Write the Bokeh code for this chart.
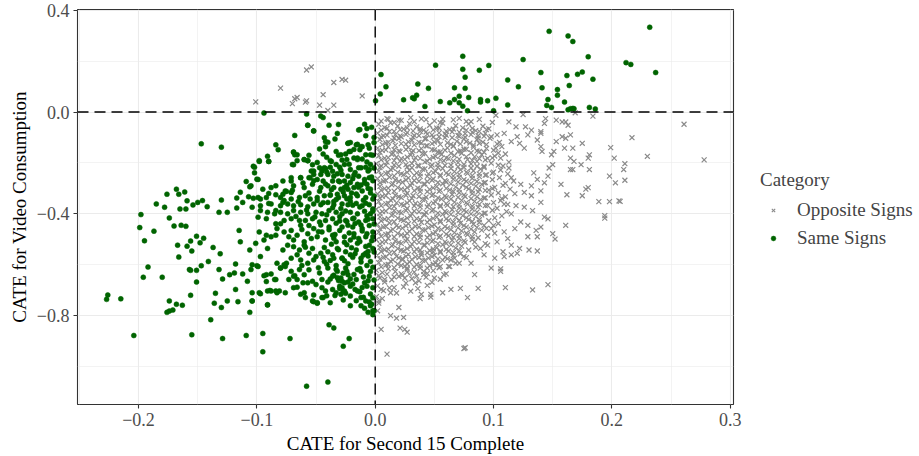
from bokeh.plotting import figure
from bokeh.layouts import row
from bokeh.models import (Range1d, FixedTicker, CustomJSTickFormatter, Span,
                          Legend, LegendItem, ColumnDataSource)
from bokeh.embed import file_html
from bokeh.resources import INLINE

FONT = "Liberation Serif"

# ---------------- data (x = CATE Second 15 Complete, y = CATE Video Consumption) -------------
# Same Signs, upper-right quadrant
green_top = [(.0049,.147),(.0091,.099),(.0043,.071),(.0003,.044),(.024,.048),(.0316,.056),(.033,.052),
 (.035,.066),(.036,.110),(.042,.022),(.045,.093),(.051,.184),(.055,.041),(.063,.036),(.067,.049),(.067,.095),
 (.071,.062),(.071,.036),(.074,.023),(.074,.168),(.074,.219),(.076,.137),(.076,.093),(.078,.005),(.079,.057),
 (.088,.164),(.089,.049),(.089,.039),(.095,.044),(.096,.183),(.100,.005),(.102,.054),(.112,.126),(.112,.028),
 (.121,.099),(.125,.206),(.140,.155),(.141,.095),(.145,.026),(.146,.049),(.147,.317),(.149,.018),(.154,.088),
 (.154,.066),(.160,.039),(.162,.143),(.163,.299),(.164,.104),(.163,.009),(.165,.013),(.167,.014),(.168,.013),
 (.167,.277),(.171,.148),(.175,.157),(.180,.217),(.181,.018),(.184,.129),(.186,.012),(.212,.194),(.216,.187),
 (.232,.333),(.237,.155)]

# Same Signs, lower-left: upper part / far left
green_left = [(-.147,-.125),(-.130,-.138),(-.094,-.004),(-.068,-.092),(-.058,-.008),(-.057,-.052),(-.052,-.074),
 (-.046,-.016),(-.044,-.022),(-.039,-.052),(-.009,-.048),(-.013,-.069),(-.008,-.093),(-.032,-.084),(-.042,-.116),
 (-.084,-.129),(-.082,-.148),(-.069,-.157),(-.068,-.168),(-.060,-.187),(-.057,-.191),(-.056,-.170),(-.069,-.207),
 (-.090,-.194),(-.098,-.194),(-.103,-.213),(-.102,-.239),(-.100,-.264),(-.109,-.273),(-.106,-.294),(-.114,-.315),
 (-.117,-.338),(-.112,-.355),(-.107,-.333),(-.103,-.339),(-.117,-.377),(-.125,-.394),(-.130,-.346),(-.132,-.394),
 (-.142,-.372),(-.146,-.348),(-.150,-.355),(-.159,-.349),(-.154,-.365),(-.160,-.381),(-.168,-.303),(-.166,-.323),
 (-.161,-.314),(-.176,-.323),(-.185,-.361),(-.178,-.374),(-.165,-.381),(-.174,-.416),(-.198,-.403),(-.097,-.368),
 (-.090,-.359),(-.084,-.387),(-.078,-.355),(-.078,-.323),(-.075,-.312),(-.070,-.307),(-.071,-.271),(-.063,-.258),
 (-.055,-.258),(-.052,-.232),(-.046,-.245),(-.043,-.219),(-.053,-.207),(-.037,-.194),(-.033,-.155),(-.029,-.168),
 (-.023,-.123),(-.016,-.129),(-.011,-.136),(-.006,-.129),(-.013,-.148),(-.022,-.155),(-.015,-.181)]

# Same Signs, lower-left: lower part / far left
green_bottom = [(-.227,-.736),(-.226,-.719),(-.215,-.734),(-.204,-.878),(-.196,-.649),(-.192,-.609),(-.180,-.649),
 (-.199,-.454),(-.187,-.468),(-.195,-.506),(-.176,-.787),(-.174,-.782),(-.171,-.778),(-.168,-.755),(-.174,-.742),
 (-.163,-.759),(-.170,-.448),(-.164,-.445),(-.160,-.449),(-.167,-.523),(-.166,-.570),(-.159,-.527),(-.155,-.546),
 (-.156,-.507),(-.151,-.488),(-.148,-.514),(-.145,-.496),(-.157,-.619),(-.156,-.622),(-.151,-.622),(-.151,-.668),
 (-.156,-.720),(-.155,-.875),(-.147,-.604),(-.141,-.587),(-.137,-.532),(-.139,-.816),(-.136,-.751),(-.135,-.712),
 (-.131,-.557),(-.132,-.619),(-.130,-.768),(-.129,-.656),(-.129,-.890),(-.125,-.742),(-.123,-.639),(-.119,-.632),
 (-.118,-.697),(-.116,-.745),(-.118,-.597),(-.115,-.465),(-.114,-.510),(-.112,-.636),(-.109,-.878),(-.108,-.665),
 (-.106,-.787),(-.106,-.542),(-.105,-.619),(-.104,-.742),(-.100,-.604),(-.097,-.714),(-.095,-.942),(-.095,-.870),
 (-.094,-.643),(-.092,-.666),(-.091,-.757),(-.089,-.701),(-.085,-.658),(-.084,-.703),(-.081,-.703),(-.080,-.613),
 (-.075,-.594),(-.073,-.658),(-.072,-.890),(-.068,-.643),(-.064,-.619),(-.061,-.671),(-.060,-.710),(-.058,-1.077),
 (-.052,-.745),(-.049,-.751),(-.044,-.729),(-.040,-1.061),(-.039,-.836),(-.035,-.848),(-.027,-.920),(-.022,-.890),
 (-.012,-.761),(-.006,-.787),(-.005,-.746),(-.002,-.796)]

# Same Signs, lower-left: main cloud
green_core = [(-.057,-.052),(-.031,-.049),(-.052,-.075),(-.014,-.071),(-.007,-.065),(-.043,-.101),(-.040,-.119),
 (-.034,-.106),(-.023,-.123),(-.021,-.120),(-.015,-.127),(-.012,-.136),(-.005,-.142),(-.047,-.145),(-.042,-.136),
 (-.069,-.158),(-.066,-.168),(-.044,-.165),(-.041,-.178),(-.038,-.191),(-.031,-.170),(-.025,-.165),(-.021,-.155),
 (-.024,-.187),(-.018,-.181),(-.015,-.187),(-.008,-.168),(-.007,-.196),(-.004,-.206),(-.098,-.191),(-.091,-.174),
 (-.090,-.194),(-.070,-.206),(-.066,-.191),(-.060,-.187),(-.057,-.191),(-.047,-.219),(-.045,-.232),(-.042,-.222),
 (-.038,-.217),(-.033,-.206),(-.030,-.217),(-.026,-.206),(-.021,-.226),(-.012,-.219),(-.008,-.217),(-.005,-.226),
 (-.102,-.217),(-.099,-.265),(-.054,-.232),(-.052,-.245),(-.040,-.245),(-.035,-.252),(-.032,-.243),(-.028,-.245),
 (-.023,-.252),(-.018,-.248),(-.014,-.252),(-.009,-.265),(-.005,-.258),(-.071,-.258),(-.063,-.258),(-.056,-.258),
 (-.049,-.265),(-.044,-.271),(-.036,-.271),(-.030,-.274),(-.026,-.271),(-.021,-.277),(-.015,-.284),(-.007,-.284),
 (-.078,-.271),(-.084,-.290),(-.088,-.297),(-.095,-.303),(-.105,-.290),(-.069,-.290),(-.060,-.297),(-.053,-.284),
 (-.046,-.297),(-.040,-.290),(-.035,-.297),(-.029,-.303),(-.023,-.303),(-.018,-.297),(-.011,-.310),(-.004,-.303),
 (-.076,-.310),(-.071,-.316),(-.090,-.320),(-.084,-.325),(-.099,-.336),(-.097,-.342),(-.092,-.336),(-.080,-.336),
 (-.077,-.348),(-.071,-.342),(-.064,-.336),(-.059,-.329),(-.055,-.342),(-.049,-.336),(-.043,-.329),(-.038,-.325),
 (-.031,-.336),(-.026,-.329),(-.021,-.336),(-.015,-.329),(-.008,-.336),(-.002,-.342),(-.088,-.361),(-.080,-.368),
 (-.074,-.361),(-.069,-.368),(-.063,-.364),(-.057,-.372),(-.052,-.361),(-.046,-.364),(-.040,-.355),(-.035,-.364),
 (-.028,-.361),(-.023,-.364),(-.016,-.359),(-.011,-.368),(-.005,-.364),(-.104,-.374),(-.097,-.387),(-.091,-.394),
 (-.085,-.400),(-.080,-.394),(-.074,-.400),(-.069,-.387),(-.063,-.394),(-.057,-.400),(-.050,-.394),(-.045,-.400),
 (-.039,-.387),(-.033,-.394),(-.028,-.400),(-.021,-.394),(-.015,-.400),(-.009,-.390),(-.004,-.400),(-.099,-.413),
 (-.092,-.419),(-.084,-.439),(-.077,-.426),(-.071,-.419),(-.064,-.426),(-.059,-.426),(-.053,-.419),(-.047,-.432),
 (-.042,-.426),(-.036,-.419),(-.030,-.428),(-.025,-.426),(-.019,-.419),(-.014,-.432),(-.008,-.426),(-.002,-.419),
 (-.101,-.516),(-.098,-.471),(-.092,-.484),(-.094,-.503),(-.088,-.490),(-.084,-.484),(-.083,-.458),(-.080,-.439),
 (-.077,-.471),(-.073,-.490),(-.071,-.465),(-.069,-.503),(-.066,-.484),(-.063,-.445),(-.060,-.510),(-.057,-.478),
 (-.054,-.497),(-.052,-.458),(-.049,-.490),(-.045,-.471),(-.042,-.503),(-.039,-.452),(-.036,-.484),(-.033,-.510),
 (-.030,-.465),(-.026,-.490),(-.023,-.445),(-.021,-.503),(-.018,-.478),(-.015,-.516),(-.011,-.458),(-.008,-.490),
 (-.005,-.523),(-.002,-.471),(-.097,-.568),(-.091,-.536),(-.078,-.542),(-.074,-.523),(-.069,-.529),(-.064,-.542),
 (-.060,-.523),(-.056,-.555),(-.053,-.536),(-.050,-.568),(-.046,-.555),(-.043,-.587),(-.040,-.549),(-.036,-.561),
 (-.032,-.536),(-.028,-.574),(-.025,-.549),(-.021,-.561),(-.016,-.542),(-.012,-.574),(-.008,-.555),(-.004,-.587),
 (-.002,-.536),(-.071,-.574),(-.063,-.581),(-.057,-.594),(-.077,-.600),(-.083,-.594),(-.104,-.600),(-.099,-.607),
 (-.092,-.639),(-.088,-.636),(-.084,-.658),(-.080,-.613),(-.076,-.607),(-.071,-.626),(-.069,-.645),(-.066,-.658),
 (-.060,-.639),(-.056,-.620),(-.053,-.665),(-.050,-.678),(-.047,-.632),(-.045,-.658),(-.040,-.613),(-.036,-.645),
 (-.032,-.626),(-.029,-.652),(-.026,-.671),(-.023,-.639),(-.021,-.684),(-.016,-.658),(-.012,-.626),(-.009,-.671),
 (-.005,-.645),(-.002,-.690),(-.030,-.684),(-.028,-.690),(-.025,-.613),(-.104,-.710),(-.098,-.710),(-.091,-.703),
 (-.088,-.703),(-.083,-.710),(-.076,-.710),(-.069,-.690),(-.063,-.716),(-.059,-.729),(-.053,-.742),(-.049,-.749),
 (-.045,-.729),(-.042,-.703),(-.038,-.749),(-.033,-.710),(-.029,-.716),(-.026,-.703),(-.021,-.723),(-.015,-.703),
 (-.012,-.729),(-.008,-.742),(-.004,-.761),(-.002,-.781),(-.091,-.758),(-.021,-.761),(-.009,-.771),(-.104,-.742)]

# Same Signs, densest part of the cloud and the column along x = 0
green_dense = [(-.003,-.255),(-.009,-.278),(-.014,-.296),(-.019,-.262),(-.024,-.288),(-.031,-.271),(-.037,-.305),
 (-.042,-.283),(-.004,-.318),(-.010,-.347),(-.016,-.322),(-.021,-.351),(-.027,-.314),(-.033,-.344),(-.038,-.327),
 (-.044,-.356),(-.002,-.381),(-.007,-.408),(-.013,-.373),(-.018,-.417),(-.025,-.389),(-.030,-.411),(-.036,-.376),
 (-.041,-.404),(-.005,-.446),(-.011,-.467),(-.017,-.438),(-.022,-.475),(-.028,-.452),(-.034,-.481),(-.039,-.463),
 (-.046,-.444),(-.003,-.506),(-.008,-.528),(-.014,-.497),(-.020,-.533),(-.026,-.512),(-.031,-.541),(-.037,-.519),
 (-.043,-.532),(-.006,-.566),(-.012,-.589),(-.017,-.557),(-.023,-.596),(-.028,-.574),(-.033,-.603),(-.038,-.583),
 (-.044,-.571),(-.004,-.627),(-.010,-.648),(-.015,-.619),(-.021,-.655),(-.027,-.633),(-.031,-.662),(-.035,-.641),
 (-.040,-.668),(-.007,-.684),(-.013,-.706),(-.019,-.676),(-.025,-.712),(-.030,-.693),(-.034,-.721),(-.028,-.665),
 (-.032,-.651),(-.001,-.12),(-.002,-.17),(-.001,-.22),(-.002,-.27),(-.001,-.33),(-.002,-.39),(-.001,-.44),
 (-.002,-.49),(-.001,-.55),(-.002,-.61),(-.001,-.66),(-.002,-.73),(-.001,-.78),(-.003,-.755),(-.001,-.10),
 (-.003,-.06)]

green_fill = [(-.006,-.232),(-.017,-.238),(-.029,-.229),(-.041,-.236),(-.052,-.270),(-.061,-.279),(-.047,-.311),
 (-.056,-.318),(-.065,-.352),(-.049,-.348),(-.058,-.385),(-.067,-.410),(-.051,-.412),(-.062,-.462),(-.056,-.446),
 (-.048,-.470),(-.059,-.531),(-.066,-.561),(-.052,-.581),(-.062,-.603),(-.048,-.612),(-.057,-.671),(-.066,-.688),
 (-.045,-.690),(-.052,-.719),(-.006,-.300),(-.012,-.287),(-.020,-.318),(-.026,-.297),(-.032,-.323),(-.008,-.358),
 (-.019,-.366),(-.024,-.341),(-.029,-.379),(-.035,-.352),(-.006,-.421),(-.012,-.444),(-.019,-.452),(-.024,-.430),
 (-.033,-.437),(-.007,-.478),(-.013,-.509),(-.018,-.491),(-.024,-.521),(-.035,-.496),(-.006,-.548),(-.010,-.562),
 (-.019,-.571),(-.026,-.584),(-.035,-.574),(-.041,-.598),(-.007,-.603),(-.013,-.615),(-.018,-.638),(-.024,-.626),
 (-.033,-.618),(-.038,-.656),(-.006,-.663),(-.011,-.689),(-.017,-.697),(-.023,-.668),(-.027,-.703),(-.036,-.697),
 (-.041,-.722),(-.004,-.715),(-.010,-.728),(-.016,-.741),(-.027,-.738),(-.014,-.219),(-.022,-.205),(-.036,-.233),
 (-.049,-.198),(-.011,-.185),(-.028,-.189),(-.004,-.168),(-.018,-.147)]

# Opposite Signs, upper-left quadrant
gray_top = [(-.101,.040),(-.080,.094),(-.070,.033),(-.068,.052),(-.066,.057),(-.058,.165),(-.054,.177),
 (-.059,.039),(-.058,.044),(-.044,.068),(-.047,.027),(-.035,.116),(-.028,.128),(-.025,.125),(-.035,.027),
 (-.011,.063),(-.040,.006)]

# Opposite Signs, lower-right: main cloud
gray_core = [
 (.003,-.048),(.008,-.061),(.013,-.043),(.019,-.055),(.024,-.067),(.029,-.046),(.035,-.058),(.041,-.071),(.046,-.052),
 (.052,-.063),(.057,-.044),(.063,-.069),(.068,-.054),(.074,-.062),(.079,-.047),(.085,-.073),(.091,-.056),(.096,-.066),(.099,-.041),
 (.002,-.083),(.007,-.094),(.012,-.077),(.017,-.089),(.022,-.098),(.027,-.081),(.033,-.092),(.038,-.076),(.044,-.087),
 (.049,-.099),(.054,-.082),(.060,-.091),(.065,-.078),(.071,-.096),(.076,-.085),(.082,-.079),(.087,-.093),(.093,-.084),(.098,-.097),
 (.004,-.108),(.009,-.121),(.015,-.113),(.020,-.104),(.026,-.126),(.031,-.111),(.037,-.119),(.042,-.105),(.048,-.124),
 (.053,-.112),(.059,-.101),(.064,-.127),(.069,-.115),(.075,-.106),(.080,-.122),(.086,-.109),(.091,-.118),(.097,-.103),(.103,-.125),
 (.002,-.142),(.006,-.151),(.011,-.137),(.016,-.148),(.021,-.156),(.028,-.139),(.032,-.152),(.039,-.144),(.043,-.133),(.050,-.149),
 (.055,-.157),(.061,-.141),(.066,-.135),(.072,-.153),(.077,-.146),(.083,-.138),(.088,-.155),(.094,-.143),(.100,-.150),(.107,-.136),
 (.003,-.172),(.008,-.181),(.014,-.166),(.018,-.177),(.025,-.186),(.030,-.169),(.034,-.179),(.040,-.163),(.046,-.184),(.051,-.174),
 (.056,-.167),(.062,-.183),(.067,-.171),(.073,-.162),(.078,-.187),(.084,-.176),(.090,-.168),(.095,-.182),(.101,-.173),(.110,-.165),
 (.001,-.203),(.005,-.212),(.010,-.197),(.016,-.208),(.021,-.193),(.027,-.216),(.031,-.202),(.036,-.211),(.042,-.196),(.047,-.214),
 (.053,-.205),(.058,-.192),(.064,-.209),(.070,-.199),(.075,-.217),(.081,-.204),(.086,-.194),(.092,-.213),(.098,-.201),(.104,-.209),(.113,-.197),
 (.003,-.232),(.009,-.241),(.013,-.226),(.019,-.237),(.024,-.246),(.029,-.229),(.035,-.239),(.040,-.224),(.045,-.243),(.051,-.233),
 (.057,-.222),(.062,-.245),(.067,-.234),(.072,-.227),(.078,-.241),(.083,-.231),(.089,-.224),(.094,-.247),(.100,-.236),(.106,-.228),(.112,-.243),
 (.002,-.262),(.007,-.271),(.012,-.256),(.017,-.267),(.023,-.276),(.028,-.259),(.033,-.269),(.038,-.253),(.044,-.273),(.049,-.263),
 (.055,-.252),(.060,-.275),(.066,-.264),(.071,-.257),(.077,-.272),(.082,-.261),(.088,-.254),(.093,-.277),(.099,-.266),(.105,-.258),(.117,-.271),
 (.004,-.292),(.008,-.301),(.014,-.286),(.019,-.297),(.025,-.306),(.030,-.289),(.036,-.299),(.041,-.283),(.046,-.304),(.052,-.293),
 (.057,-.282),(.063,-.306),(.068,-.294),(.074,-.287),(.079,-.302),(.085,-.291),(.090,-.284),(.096,-.307),(.101,-.296),(.108,-.288),(.114,-.303),
 (.002,-.322),(.006,-.331),(.011,-.316),(.017,-.327),(.022,-.336),(.027,-.319),(.032,-.329),(.038,-.313),(.043,-.334),(.049,-.323),
 (.054,-.312),(.060,-.336),(.065,-.324),(.071,-.317),(.076,-.332),(.082,-.321),(.087,-.314),(.093,-.337),(.098,-.326),(.104,-.318),(.110,-.333),(.118,-.321),
 (.003,-.352),(.009,-.361),(.013,-.346),(.018,-.357),(.024,-.366),(.029,-.349),(.034,-.359),(.040,-.343),(.045,-.364),(.051,-.353),
 (.056,-.342),(.061,-.366),(.067,-.354),(.073,-.347),(.078,-.362),(.084,-.351),(.089,-.344),(.095,-.367),(.100,-.356),(.106,-.348),(.112,-.363),
 (.001,-.382),(.006,-.391),(.012,-.376),(.016,-.387),(.022,-.396),(.027,-.379),(.033,-.389),(.038,-.373),(.043,-.394),(.049,-.383),
 (.055,-.372),(.060,-.396),(.065,-.384),(.071,-.377),(.077,-.392),(.082,-.381),(.087,-.374),(.093,-.397),(.099,-.386),(.103,-.378),(.111,-.391),
 (.004,-.412),(.008,-.421),(.014,-.406),(.019,-.417),(.024,-.426),(.030,-.409),(.035,-.419),(.041,-.403),(.046,-.424),(.052,-.413),
 (.057,-.402),(.062,-.426),(.068,-.414),(.074,-.407),(.079,-.422),(.085,-.411),(.090,-.404),(.096,-.427),(.101,-.416),(.107,-.408),
 (.002,-.442),(.007,-.451),(.012,-.436),(.018,-.447),(.023,-.456),(.028,-.439),(.034,-.449),(.039,-.433),(.045,-.454),(.050,-.443),
 (.055,-.432),(.061,-.456),(.066,-.444),(.072,-.437),(.077,-.452),(.083,-.441),(.088,-.434),(.094,-.457),(.100,-.446),(.104,-.438),
 (.003,-.472),(.009,-.481),(.013,-.466),(.019,-.477),(.025,-.486),(.029,-.469),(.035,-.479),(.040,-.463),(.046,-.484),(.051,-.473),
 (.056,-.462),(.062,-.486),(.067,-.474),(.073,-.467),(.078,-.482),(.084,-.471),(.090,-.464),(.095,-.487),(.101,-.476),
 (.001,-.502),(.006,-.511),(.011,-.496),(.017,-.507),(.022,-.516),(.027,-.499),(.033,-.509),(.038,-.493),(.044,-.514),(.049,-.503),
 (.054,-.492),(.060,-.516),(.065,-.504),(.071,-.497),(.076,-.512),(.082,-.501),(.087,-.494),(.093,-.517),
 (.004,-.532),(.008,-.541),(.014,-.526),(.019,-.537),(.024,-.546),(.030,-.529),(.035,-.539),(.041,-.523),(.046,-.544),(.052,-.533),
 (.057,-.522),(.062,-.546),(.068,-.534),(.073,-.527),(.079,-.542),(.085,-.531),
 (.002,-.562),(.007,-.571),(.012,-.556),(.018,-.567),(.023,-.576),(.028,-.559),(.034,-.569),(.039,-.553),(.045,-.574),(.050,-.563),
 (.055,-.552),(.061,-.576),(.066,-.564),(.072,-.557),(.077,-.572),
 (.003,-.592),(.009,-.601),(.013,-.586),(.019,-.597),(.025,-.606),(.029,-.589),(.035,-.599),(.040,-.583),(.046,-.604),(.051,-.593),
 (.057,-.582),(.062,-.606),(.068,-.594),
 (.001,-.622),(.006,-.631),(.011,-.616),(.017,-.627),(.022,-.636),(.027,-.619),(.033,-.629),(.038,-.613),(.044,-.634),(.049,-.623),
 (.054,-.612),(.060,-.636),
 (.004,-.652),(.008,-.668),(.014,-.659),(.020,-.646),(.026,-.672),(.031,-.655),(.037,-.663),(.043,-.649),(.048,-.669),(.055,-.657),
 (.002,-.683),(.007,-.702),(.012,-.691),(.018,-.711),(.024,-.687),(.030,-.704),(.036,-.694),(.044,-.681),
 (.001,-.725),(.003,-.742),(.006,-.733)]

# Opposite Signs, lower-right: points between the rows of the main cloud
gray_fill = [
 (.005,-.036),(.011,-.029),(.016,-.041),(.022,-.033),(.033,-.038),(.039,-.027),(.050,-.035),(.055,-.042),(.066,-.031),(.077,-.037),(.088,-.029),
 (.005,-.071),(.010,-.064),(.016,-.076),(.021,-.069),(.027,-.062),(.032,-.074),(.038,-.066),(.043,-.078),(.049,-.070),(.054,-.063),(.060,-.075),
 (.066,-.067),(.071,-.079),(.077,-.071),(.082,-.064),(.088,-.076),(.094,-.069),
 (.005,-.098),(.010,-.091),(.016,-.102),(.021,-.094),(.026,-.088),(.032,-.099),(.037,-.093),(.043,-.104),(.048,-.090),(.054,-.097),(.059,-.086),
 (.065,-.101),(.070,-.092),(.076,-.099),(.081,-.089),(.087,-.103),(.092,-.095),
 (.006,-.128),(.011,-.119),(.017,-.131),(.022,-.124),(.028,-.117),(.033,-.129),(.039,-.122),(.044,-.133),(.050,-.118),(.055,-.127),(.061,-.121),
 (.066,-.132),(.072,-.125),(.077,-.116),(.083,-.130),(.088,-.123),(.094,-.128),(.105,-.119),
 (.004,-.158),(.009,-.149),(.015,-.161),(.020,-.153),(.026,-.147),(.031,-.159),(.037,-.152),(.042,-.163),(.048,-.148),(.053,-.157),(.059,-.150),
 (.064,-.162),(.070,-.155),(.075,-.146),(.081,-.160),(.086,-.153),(.092,-.158),(.104,-.161),
 (.005,-.188),(.011,-.179),(.016,-.191),(.022,-.183),(.027,-.177),(.033,-.189),(.038,-.182),(.044,-.193),(.049,-.178),(.055,-.187),(.060,-.180),
 (.066,-.192),(.071,-.185),(.077,-.176),(.082,-.190),(.088,-.183),(.093,-.188),(.099,-.180),
 (.004,-.218),(.009,-.209),(.015,-.221),(.020,-.213),(.026,-.207),(.031,-.219),(.037,-.212),(.042,-.223),(.048,-.208),(.053,-.217),(.059,-.210),
 (.064,-.222),(.070,-.215),(.075,-.206),(.081,-.220),(.086,-.213),(.092,-.218),(.108,-.212),
 (.005,-.248),(.011,-.239),(.016,-.251),(.022,-.243),(.027,-.237),(.033,-.249),(.038,-.242),(.044,-.253),(.049,-.238),(.055,-.247),(.060,-.240),
 (.066,-.252),(.071,-.245),(.077,-.236),(.082,-.250),(.088,-.243),(.093,-.248),(.099,-.240),
 (.004,-.278),(.009,-.269),(.015,-.281),(.020,-.273),(.026,-.267),(.031,-.279),(.037,-.272),(.042,-.283),(.048,-.268),(.053,-.277),(.059,-.270),
 (.064,-.282),(.070,-.275),(.075,-.266),(.081,-.280),(.086,-.273),(.092,-.278),(.110,-.280),
 (.005,-.308),(.011,-.299),(.016,-.311),(.022,-.303),(.027,-.297),(.033,-.309),(.038,-.302),(.044,-.313),(.049,-.298),(.055,-.307),(.060,-.300),
 (.066,-.312),(.071,-.305),(.077,-.296),(.082,-.310),(.088,-.303),(.093,-.308),(.099,-.300),
 (.004,-.338),(.009,-.329),(.015,-.341),(.020,-.333),(.026,-.327),(.031,-.339),(.037,-.332),(.042,-.343),(.048,-.328),(.053,-.337),(.059,-.330),
 (.064,-.342),(.070,-.335),(.075,-.326),(.081,-.340),(.086,-.333),(.092,-.338),(.107,-.340),
 (.005,-.368),(.011,-.359),(.016,-.371),(.022,-.363),(.027,-.357),(.033,-.369),(.038,-.362),(.044,-.373),(.049,-.358),(.055,-.367),(.060,-.360),
 (.066,-.372),(.071,-.365),(.077,-.356),(.082,-.370),(.088,-.363),(.093,-.368),
 (.004,-.398),(.009,-.389),(.015,-.401),(.020,-.393),(.026,-.387),(.031,-.399),(.037,-.392),(.042,-.403),(.048,-.388),(.053,-.397),(.059,-.390),
 (.064,-.402),(.070,-.395),(.075,-.386),(.081,-.400),(.086,-.393),(.092,-.398),
 (.005,-.428),(.011,-.419),(.016,-.431),(.022,-.423),(.027,-.417),(.033,-.429),(.038,-.422),(.044,-.433),(.049,-.418),(.055,-.427),(.060,-.420),
 (.066,-.432),(.071,-.425),(.077,-.416),(.082,-.430),(.088,-.423),
 (.004,-.458),(.009,-.449),(.015,-.461),(.020,-.453),(.026,-.447),(.031,-.459),(.037,-.452),(.042,-.463),(.048,-.448),(.053,-.457),(.059,-.450),
 (.064,-.462),(.070,-.455),(.075,-.446),(.081,-.460),(.086,-.453),
 (.005,-.488),(.011,-.479),(.016,-.491),(.022,-.483),(.027,-.477),(.033,-.489),(.038,-.482),(.044,-.493),(.049,-.478),(.055,-.487),(.060,-.480),
 (.066,-.492),(.071,-.485),(.077,-.476),(.082,-.490),
 (.004,-.518),(.009,-.509),(.015,-.521),(.020,-.513),(.026,-.507),(.031,-.519),(.037,-.512),(.042,-.523),(.048,-.508),(.053,-.517),(.059,-.510),
 (.064,-.522),(.070,-.515),(.075,-.506),
 (.005,-.548),(.011,-.539),(.016,-.551),(.022,-.543),(.027,-.537),(.033,-.549),(.038,-.542),(.044,-.553),(.049,-.538),(.055,-.547),(.060,-.540),
 (.066,-.552),(.071,-.545),
 (.004,-.578),(.009,-.569),(.015,-.581),(.020,-.573),(.026,-.567),(.031,-.579),(.037,-.572),(.042,-.583),(.048,-.568),(.053,-.577),(.059,-.570),
 (.064,-.582),
 (.005,-.608),(.011,-.599),(.016,-.611),(.022,-.603),(.027,-.597),(.033,-.609),(.038,-.602),(.044,-.613),(.049,-.598),(.055,-.607),
 (.003,-.643),(.010,-.637),(.016,-.648),(.023,-.641),(.029,-.636),(.035,-.645),(.041,-.639)]

# Opposite Signs, lower-right: right edge of the cloud
gray_right = [(.010,-.026),(.020,-.032),(.030,-.022),(.043,-.030),(.057,-.028),(.071,-.025),(.081,-.038),
 (.102,-.013),(.113,-.039),(.119,-.058),(.125,-.010),(.127,-.058),(.132,-.071),(.140,-.084),(.143,-.045),
 (.144,-.026),(.153,-.032),(.158,-.039),(.161,-.039),(.163,-.052),(.103,-.090),(.109,-.084),(.120,-.097),
 (.129,-.090),(.137,-.110),(.140,-.077),(.115,-.116),(.122,-.123),(.126,-.142),(.140,-.136),(.141,-.155),
 (.149,-.168),(.151,-.155),(.153,-.116),(.158,-.097),(.161,-.103),(.165,-.090),(.160,-.142),(.167,-.142),
 (.165,-.181),(.168,-.194),(.175,-.123),(.180,-.181),(.181,-.168),(.174,-.207),(.181,-.226),(.202,-.181),
 (.199,-.140),(.198,-.252),(.203,-.278),(.157,-.284),(.165,-.226),(.167,-.226),(.147,-.220),(.150,-.207),
 (.146,-.252),(.143,-.278),(.134,-.239),(.137,-.265),(.132,-.290),(.140,-.310),(.140,-.355),(.132,-.329),
 (.126,-.316),(.123,-.284),(.115,-.258),(.113,-.220),(.106,-.181),(.102,-.142),(.162,-.325),(.175,-.329),
 (.178,-.303),(.180,-.297),(.189,-.352),(.198,-.352),(.206,-.349),(.194,-.407),(.133,-.387),(.126,-.374),
 (.119,-.368),(.109,-.362),(.115,-.400),(.261,-.048),(.278,-.188),(.230,-.174),(.217,-.101),(.211,-.203),
 (.210,-.226),(.211,-.268),(.207,-.351),(.184,-.016),(.169,-.003)]

# Opposite Signs, lower-right: lower part
gray_bottom = [(.143,-.413),(.146,-.420),(.140,-.452),(.136,-.465),(.137,-.490),(.129,-.490),(.130,-.542),
 (.137,-.546),(.120,-.555),(.122,-.536),(.115,-.561),(.108,-.549),(.109,-.568),(.101,-.574),(.115,-.523),
 (.112,-.497),(.103,-.510),(.098,-.613),(.106,-.616),(.106,-.626),(.084,-.639),(.087,-.693),(.072,-.693),
 (.110,-.690),(.133,-.699),(.146,-.678),(.078,-.729),(.064,-.697),(.057,-.710),(.047,-.716),(.039,-.716),
 (.081,-.594),(.075,-.568),(.071,-.594),(.067,-.574),(.063,-.607),(.053,-.600),(.058,-.639),(.050,-.652),
 (.041,-.626),(.034,-.671),(.025,-.652),(.027,-.613),(.016,-.690),(.013,-.710),(.005,-.697),(.008,-.658),
 (.023,-.581),(.039,-.561),(.049,-.549),(.092,-.561),(.095,-.523),(.089,-.536),(.084,-.510),(.123,-.432),
 (.129,-.445),(.118,-.458),(.109,-.471),(.098,-.458),(.092,-.445),(.161,-.445),(.194,-.417),(.150,-.478),
 (.152,-.499),(.075,-.929),(.076,-.926),(.020,-.768),(.013,-.800),(.018,-.810),(.024,-.807),(.021,-.849),
 (.027,-.865),(.025,-.854),(.005,-.854),(.010,-.951),(.003,-.751),(.002,-.781),(.038,-.733),(.047,-.727)]

x_ticks = [-0.2, -0.1, 0.0, 0.1, 0.2, 0.3]
x_minor = [-0.25, -0.15, -0.05, 0.05, 0.15, 0.25]
y_ticks = [-0.8, -0.4, 0.0, 0.4]
y_minor = [-1.0, -0.6, -0.2, 0.2]
categories = ["Opposite Signs", "Same Signs"]

GRAY = "#8A8A8A"
GREEN = "#006400"

# ---------------- build ----------------
opp = gray_top + gray_core + gray_fill + gray_right + gray_bottom
same = green_top + green_left + green_bottom + green_core + green_dense + green_fill

src_opp = ColumnDataSource(dict(x=[p[0] for p in opp], y=[p[1] for p in opp]))
src_same = ColumnDataSource(dict(x=[p[0] for p in same], y=[p[1] for p in same]))

p = figure(width=745, height=456, output_backend="svg", toolbar_location=None,
           x_range=Range1d(-0.2516, 0.3028), y_range=Range1d(-1.149, 0.4027),
           min_border_left=77, min_border_right=12, min_border_top=9, min_border_bottom=46)
p.background_fill_color = "white"
p.border_fill_color = "white"
p.outline_line_color = "#333333"
p.outline_line_width = 1.1

r_opp = p.scatter("x", "y", source=src_opp, marker="x", size=7,
                  line_color=GRAY, line_width=1.2)
r_same = p.scatter("x", "y", source=src_same, marker="circle", size=5,
                   fill_color=GREEN, line_color=GREEN, line_width=0.5)

p.add_layout(Span(location=0, dimension="height", line_color="black",
                  line_width=1.4, line_dash="11 6"))
p.add_layout(Span(location=0, dimension="width", line_color="black",
                  line_width=1.4, line_dash="11 6"))

fmt = CustomJSTickFormatter(code="return (tick < -1e-9 ? '\u2212' : '') + Math.abs(tick).toFixed(1);")

p.xaxis.ticker = FixedTicker(ticks=x_ticks, minor_ticks=x_minor)
p.yaxis.ticker = FixedTicker(ticks=y_ticks, minor_ticks=y_minor)
for ax in (p.xaxis[0], p.yaxis[0]):
    ax.formatter = fmt
    ax.axis_line_color = None
    ax.major_tick_line_color = "#333333"
    ax.major_tick_line_width = 1.1
    ax.major_tick_out = 4
    ax.major_tick_in = 0
    ax.minor_tick_line_color = None
    ax.major_label_text_font = FONT
    ax.major_label_text_font_size = "18px"
    ax.major_label_text_color = "#4D4D4D"
    ax.major_label_standoff = 4
    ax.axis_label_text_font = FONT
    ax.axis_label_text_font_size = "19px"
    ax.axis_label_text_font_style = "normal"
    ax.axis_label_text_color = "black"
    ax.axis_label_standoff = 4
p.xaxis.axis_label = "CATE for Second 15 Complete"
p.yaxis.axis_label = "CATE for Video Consumption"

for g in (p.xgrid[0], p.ygrid[0]):
    g.grid_line_color = "#EBEBEB"
    g.grid_line_width = 1.1
    g.minor_grid_line_color = "#EBEBEB"
    g.minor_grid_line_width = 0.6

# ---------------- legend panel ----------------
# key renderers hold one point outside the panel's visible range, only to give the legend its swatches
lp = figure(width=174, height=456, output_backend="svg", toolbar_location=None,
            x_range=Range1d(0, 1), y_range=Range1d(0, 1),
            min_border_left=0, min_border_right=0, min_border_top=0, min_border_bottom=0)
lp.axis.visible = False
lp.grid.visible = False
lp.outline_line_color = None
lp.background_fill_color = "white"
lp.border_fill_color = "white"
k_opp = lp.scatter(x=[5], y=[5], marker="x", size=6, line_color=GRAY, line_width=1.1)
k_same = lp.scatter(x=[5], y=[5], marker="circle", size=5, fill_color=GREEN,
                    line_color=GREEN, line_width=0.5)

legend = Legend(items=[LegendItem(label=categories[0], renderers=[k_opp]),
                       LegendItem(label=categories[1], renderers=[k_same])],
                title="Category", location=(15, 155), orientation="vertical")
legend.title_text_font = FONT
legend.title_text_font_size = "19px"
legend.title_text_font_style = "normal"
legend.title_standoff = 8
legend.label_text_font = FONT
legend.label_text_font_size = "19px"
legend.glyph_width = 26
legend.glyph_height = 12
legend.label_height = 20
legend.label_standoff = 11
legend.spacing = 6
legend.padding = 10
legend.margin = 0
legend.border_line_color = None
legend.background_fill_alpha = 0
lp.add_layout(legend, "center")

layout = row(p, lp)
open("out.html", "w").write(file_html(layout, INLINE))
